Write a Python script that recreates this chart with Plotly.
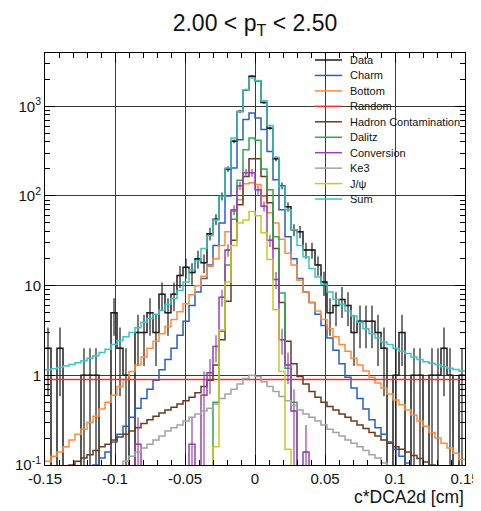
import numpy as np
import plotly.graph_objects as go

# ---------------- data (70 bins on [-0.15, 0.15]) ----------------
n_bins = 70
x_lo, x_hi = -0.15, 0.15

data_counts = [2, 0, 2, 0, 0, 0, 1, 1, 1, 0,
               0, 5, 2, 1, 0, 3, 3, 5, 3, 8,
               5, 8, 13, 16, 14, 20, 18, 38, 55, 99,
               200, 407, 877, 1530, 2160, 1930, 1100, 570, 260, 130,
               76, 42, 40, 25, 25, 17, 11, 5, 6, 7,
               6, 3, 4, 4, 4, 3, 2, 0, 1, 3,
               0, 1, 1, 0, 1, 1, 2, 1, 0, 1]

charm = [0, 0, 0, 0, 0, 0, 0, 0, 0.1, 0.12,
         0.14, 0.18, 0.22, 0.27, 0.34, 0.43, 0.55, 0.7, 0.88, 1.15,
         1.5, 2.0, 2.8, 4.0, 6.0, 8.5, 12, 17, 28, 50,
         100, 205, 424, 710, 842, 740, 550, 314, 152, 70,
         35, 20, 12, 8.5, 6.5, 4.8, 3.6, 2.6, 1.9, 1.35,
         0.95, 0.72, 0.55, 0.42, 0.32, 0.26, 0.22, 0.18, 0.15, 0.125,
         0.105, 0, 0, 0, 0, 0, 0, 0, 0, 0]

bottom = [0.11, 0.125, 0.14, 0.16, 0.19, 0.22, 0.25, 0.3, 0.35, 0.42,
          0.5, 0.6, 0.75, 0.9, 1.1, 1.3, 1.6, 2.0, 2.4, 2.9,
          3.5, 4.2, 5.1, 6.3, 7.9, 10, 12.7, 16.4, 20, 28,
          40, 67, 91, 137, 140, 134, 99, 65, 50, 33,
          23, 17, 11.5, 8.5, 6.5, 5.2, 4.2, 3.3, 2.7, 2.2,
          1.85, 1.55, 1.3, 1.12, 0.95, 0.82, 0.72, 0.62, 0.53, 0.47,
          0.41, 0.36, 0.31, 0.27, 0.23, 0.2, 0.175, 0.155, 0.135, 0.115]

random_bg = [0.9, 0.9, 0.9, 0.9, 0.9, 0.9, 0.9, 0.9, 0.9, 0.9,
             0.9, 0.9, 0.9, 0.9, 0.9, 0.9, 0.9, 0.9, 0.9, 0.9,
             0.9, 0.9, 0.9, 0.9, 0.9, 0.9, 0.9, 0.9, 0.9, 0.9,
             0.9, 0.9, 0.9, 0.9, 0.9, 0.9, 0.9, 0.9, 0.9, 0.9,
             0.9, 0.9, 0.9, 0.9, 0.9, 0.9, 0.9, 0.9, 0.9, 0.9,
             0.9, 0.9, 0.9, 0.9, 0.9, 0.9, 0.9, 0.9, 0.9, 0.9,
             0.9, 0.9, 0.9, 0.9, 0.9, 0.9, 0.9, 0.9, 0.9, 0.9]

hadron = [0, 0, 0, 0, 0.1, 0.11, 0.12, 0.13, 0.145, 0.16,
          0.17, 0.19, 0.205, 0.22, 0.24, 0.26, 0.29, 0.32, 0.35, 0.38,
          0.41, 0.44, 0.48, 0.52, 0.57, 0.64, 0.75, 0.88, 1.3, 2.5,
          6.7, 32, 80, 165, 260, 260, 165, 84, 26, 6.5,
          2.4, 1.35, 0.97, 0.8, 0.66, 0.57, 0.5, 0.45, 0.41, 0.37,
          0.34, 0.31, 0.28, 0.255, 0.23, 0.21, 0.19, 0.175, 0.16, 0.15,
          0.14, 0.128, 0.118, 0.108, 0.1, 0.09, 0, 0, 0, 0]

dalitz = [0, 0, 0, 0, 0, 0, 0, 0, 0, 0,
          0, 0, 0, 0, 0, 0, 0, 0, 0, 0,
          0, 0, 0, 0, 0, 0, 0, 0, 0.5, 3.1,
          17, 55, 150, 328, 444, 417, 200, 117, 35, 8.3,
          1.2, 0.5, 0, 0, 0, 0, 0, 0, 0, 0,
          0, 0, 0, 0, 0, 0, 0, 0, 0, 0,
          0, 0, 0, 0, 0, 0, 0, 0, 0, 0]

conversion = [0, 0, 0, 0, 0, 0, 0, 0, 0, 0,
              0, 0, 0, 0, 0, 0.17, 0, 0, 0, 0,
              0, 0, 0, 0, 0.17, 0, 0.6, 1.07, 2.1, 7.4,
              25, 70, 130, 182, 182, 117, 77, 32, 11.7, 2.5,
              1.3, 0.4, 0, 0.14, 0, 0, 0, 0, 0, 0,
              0, 0, 0, 0, 0, 0, 0, 0, 0, 0,
              0, 0, 0, 0, 0, 0, 0, 0, 0, 0]

conversion_err = [0, 0, 0, 0, 0, 0, 0, 0, 0, 0,
                  0, 0, 0, 0, 0, 0.17, 0, 0, 0, 0,
                  0, 0, 0, 0, 0.17, 0, 0.5, 0.45, 0.7, 1.6,
                  4, 9, 14, 18, 18, 14, 10, 5, 2.5, 0.8,
                  0.5, 0.3, 0, 0.14, 0, 0, 0, 0, 0, 0,
                  0, 0, 0, 0, 0, 0, 0, 0, 0, 0,
                  0, 0, 0, 0, 0, 0, 0, 0, 0, 0]

ke3 = [0, 0, 0, 0, 0, 0, 0, 0, 0, 0,
       0, 0, 0, 0.11, 0.125, 0.14, 0.155, 0.17, 0.19, 0.21,
       0.24, 0.26, 0.28, 0.31, 0.34, 0.37, 0.4, 0.43, 0.48, 0.55,
       0.62, 0.7, 0.8, 0.92, 1.0, 0.97, 0.85, 0.75, 0.66, 0.58,
       0.52, 0.46, 0.41, 0.37, 0.34, 0.31, 0.28, 0.25, 0.23, 0.21,
       0.19, 0.175, 0.16, 0.145, 0.13, 0.12, 0.105, 0, 0, 0,
       0, 0, 0, 0, 0, 0, 0, 0, 0, 0]

jpsi = [0, 0, 0, 0, 0, 0, 0, 0, 0, 0,
        0, 0, 0, 0, 0, 0, 0, 0, 0, 0,
        0, 0, 0, 0, 0, 0, 0, 0, 0.16, 3.2,
        11, 28, 50, 54, 67, 60, 39, 19.5, 5.4, 1.1,
        0.15, 0, 0, 0, 0, 0, 0, 0, 0, 0,
        0, 0, 0, 0, 0, 0, 0, 0, 0, 0,
        0, 0, 0, 0, 0, 0, 0, 0, 0, 0]

total = [1.15, 1.18, 1.22, 1.27, 1.32, 1.38, 1.45, 1.55, 1.65, 1.8,
         1.95, 2.2, 2.45, 2.7, 3.0, 3.4, 3.9, 4.3, 4.8, 5.3,
         6.2, 7.2, 8.8, 11.0, 15, 19, 26, 36, 54, 99,
         205, 443, 877, 1530, 2070, 1930, 1150, 610, 270, 128,
         70, 42, 28, 21, 15.5, 12.5, 10.3, 8.5, 7.0, 6.2,
         5.2, 4.6, 3.9, 3.3, 2.9, 2.6, 2.35, 2.2, 2.0, 1.85,
         1.75, 1.6, 1.5, 1.42, 1.36, 1.31, 1.25, 1.2, 1.16, 1.12]

legend_names = ["Data", "Charm", "Bottom", "Random", "Hadron Contamination",
                "Dalitz", "Conversion", "Ke3", "J/\u03c8", "Sum"]
x_ticks = [-0.15, -0.1, -0.05, 0, 0.05, 0.1, 0.15]
x_tick_text = ["-0.15", "-0.1", "-0.05", "0", "0.05", "0.1", "0.15"]
y_ticks = [0.1, 1, 10, 100, 1000]
y_tick_text = ["10<sup>-1</sup>", "1", "10", "10<sup>2</sup>", "10<sup>3</sup>"]

# ---------------- styling ----------------
colors = {
    "Data": "#1e1e1e",
    "Charm": "#2a5fc2",
    "Bottom": "#ff8a3d",
    "Random": "#ff2a2a",
    "Hadron Contamination": "#6b3a1e",
    "Dalitz": "#2fa84f",
    "Conversion": "#9a40b0",
    "Ke3": "#a3a3a3",
    "J/\u03c8": "#c9c925",
    "Sum": "#3dc3c3",
}

edges = np.linspace(x_lo, x_hi, n_bins + 1)
centers = 0.5 * (edges[:-1] + edges[1:])
bw = edges[1] - edges[0]


def step_y(vals):
    v = np.asarray(vals, dtype=float)
    v = np.where(v > 0, v, 1e-3)
    return np.append(v, v[-1])


fig = go.Figure()
LW = 1.5

series = [
    ("Data", data_counts),
    ("Charm", charm),
    ("Bottom", bottom),
    ("Random", random_bg),
    ("Hadron Contamination", hadron),
    ("Dalitz", dalitz),
    ("Conversion", conversion),
    ("Ke3", ke3),
    ("J/\u03c8", jpsi),
    ("Sum", total),
]

for name, vals in series:
    fig.add_trace(go.Scatter(
        x=edges, y=step_y(vals), mode="lines", name=name,
        line=dict(shape="hv", color=colors[name], width=LW),
        showlegend=False, hoverinfo="skip"))
    if name == "Data":
        d = np.asarray(data_counts, dtype=float)
        m = d > 0
        fig.add_trace(go.Scatter(
            x=centers[m], y=d[m], mode="markers",
            marker=dict(size=1, color=colors[name]),
            error_y=dict(type="data", array=np.sqrt(d[m]), width=0,
                         thickness=1.2, color=colors[name]),
            error_x=dict(type="constant", value=bw * 0.3, width=0,
                         thickness=1.2, color=colors[name]),
            showlegend=False, hoverinfo="skip"))
    if name == "Conversion":
        c = np.asarray(conversion, dtype=float)
        e = np.asarray(conversion_err, dtype=float)
        m = c > 0
        fig.add_trace(go.Scatter(
            x=centers[m], y=c[m], mode="markers",
            marker=dict(size=1, color=colors[name]),
            error_y=dict(type="data", array=e[m], width=0,
                         thickness=1.2, color=colors[name]),
            error_x=dict(type="constant", value=bw * 0.3, width=0,
                         thickness=1.2, color=colors[name]),
            showlegend=False, hoverinfo="skip"))

# ---------------- layout ----------------
# the page body adds an 8 px offset; target screen positions are given in
# window pixels and converted here
OFF = 8
W, H = 481 - OFF, 511 - OFF
L, R, T, B = 45 - OFF, 16, 53 - OFF, 46
pw, ph = W - L - R, H - T - B


def px_x(px):
    return (px - OFF - L) / pw


def px_y(py):
    return (T + ph - (py - OFF)) / ph


x_minor = [round(v, 3) for v in np.arange(-0.15, 0.1501, 0.01)]
y_minor = [m * 10.0 ** k for k in range(-1, 4) for m in range(2, 10)]

fig.update_layout(
    width=W, height=H,
    margin=dict(l=L, r=R, t=T, b=B, pad=0, autoexpand=False),
    paper_bgcolor="white", plot_bgcolor="white",
    font=dict(family="Liberation Sans, Arial, sans-serif", color="black"),
    showlegend=False,
    title=dict(text="2.00 < p<sub>T</sub> < 2.50", x=0.5, xref="paper",
               y=1 - (23 - OFF) / H, yref="container", xanchor="center",
               yanchor="middle", font=dict(size=23, color="#111")),
)

fig.update_xaxes(
    automargin=False,
    range=[x_lo, x_hi], tickmode="array", tickvals=x_ticks, ticktext=x_tick_text,
    ticks="inside", ticklen=10, tickwidth=1, tickcolor="black",
    showline=True, linecolor="black", linewidth=1, mirror="allticks",
    showgrid=True, gridcolor="#3a3a3a", gridwidth=1, zeroline=False,
    tickfont=dict(size=15, color="#111"),
    minor=dict(tickmode="array", tickvals=x_minor, ticks="inside", ticklen=5,
               tickcolor="black", showgrid=False),
)

fig.update_yaxes(
    automargin=False,
    type="log", range=[-1, 3.594], tickmode="array", tickvals=y_ticks,
    ticktext=y_tick_text, ticks="inside", ticklen=10, tickwidth=1,
    tickcolor="black", showline=True, linecolor="black", linewidth=1,
    mirror="allticks", showgrid=True, gridcolor="#3a3a3a", gridwidth=1,
    zeroline=False, tickfont=dict(size=15, color="#111"),
    minor=dict(tickmode="array", tickvals=y_minor, ticks="inside", ticklen=5,
               tickcolor="black", showgrid=False),
)

# x-axis title (ROOT style, right aligned)
fig.add_annotation(text="c*DCA2d [cm]", xref="paper", yref="paper",
                   x=1.0, y=px_y(497), xanchor="right",
                   yanchor="middle", showarrow=False, borderpad=0,
                   font=dict(size=17.5, color="#111"))

# legend (drawn in paper coordinates)
row0, drow = 60.0, 15.45
for k, name in enumerate(legend_names):
    yp = px_y(row0 + k * drow)
    fig.add_shape(type="line", xref="paper", yref="paper",
                  x0=px_x(315), x1=px_x(342), y0=yp, y1=yp,
                  line=dict(color=colors[name], width=1.5))
    fig.add_annotation(text=name, xref="paper", yref="paper",
                       x=px_x(348), y=yp, xanchor="left", yanchor="middle",
                       showarrow=False, font=dict(size=11, color="#111"))

fig.write_html("out.html")
